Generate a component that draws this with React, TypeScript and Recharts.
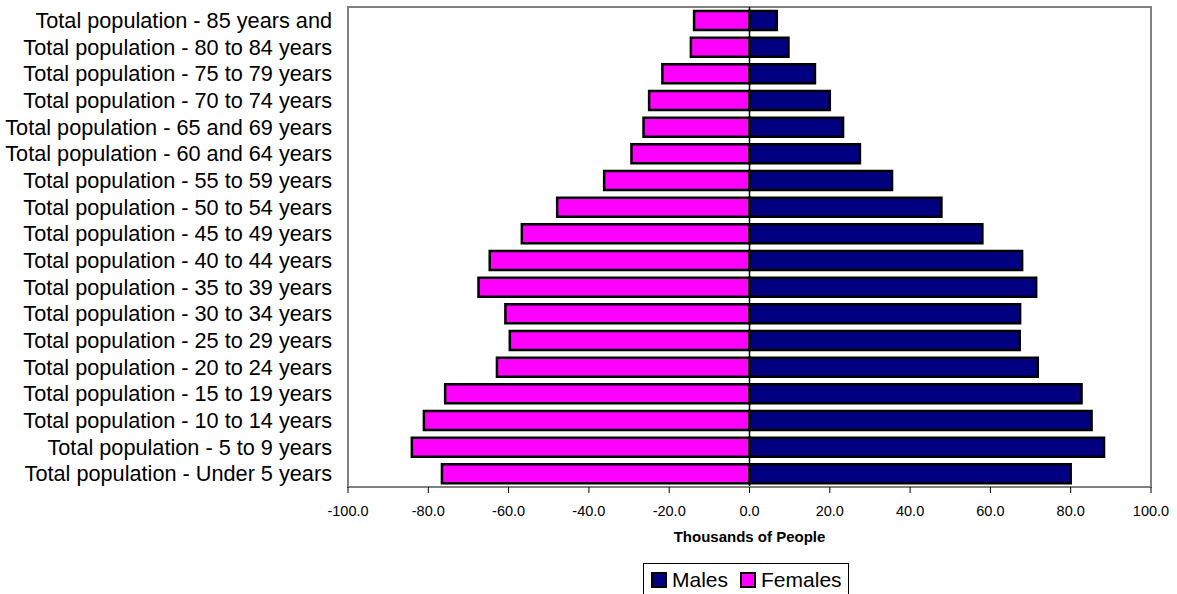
import React from 'react';
import {
  BarChart, Bar, XAxis, YAxis, ReferenceLine, ReferenceArea
} from 'recharts';

const ageGroups = [
  'Total population - 85 years and',
  'Total population - 80 to 84 years',
  'Total population - 75 to 79 years',
  'Total population - 70 to 74 years',
  'Total population - 65 and 69 years',
  'Total population - 60 and 64 years',
  'Total population - 55 to 59 years',
  'Total population - 50 to 54 years',
  'Total population - 45 to 49 years',
  'Total population - 40 to 44 years',
  'Total population - 35 to 39 years',
  'Total population - 30 to 34 years',
  'Total population - 25 to 29 years',
  'Total population - 20 to 24 years',
  'Total population - 15 to 19 years',
  'Total population - 10 to 14 years',
  'Total population - 5 to 9 years',
  'Total population - Under 5 years',
];

const males = [6.8, 9.7, 16.3, 20.0, 23.3, 27.5, 35.5, 47.8, 58.0, 67.9, 71.4, 67.4, 67.3, 71.8, 82.7, 85.2, 88.3, 80.0];
const females = [-13.8, -14.6, -21.7, -25.0, -26.4, -29.4, -36.2, -47.9, -56.7, -64.7, -67.5, -60.8, -59.7, -62.9, -75.8, -81.1, -84.1, -76.6];

const xTicks = [-100, -80, -60, -40, -20, 0, 20, 40, 60, 80, 100];

const series = [
  { key: 'males', name: 'Males', color: '#000080' },
  { key: 'females', name: 'Females', color: '#FF00FF' },
];

const FONT = '"Liberation Sans", Arial, sans-serif';

export default function App() {
  const data = ageGroups.map((group, i) => ({
    group,
    males: males[i],
    females: females[i],
  }));

  return (
    <div style={{ position: 'absolute', left: 0, top: 0, width: 1177, height: 594, background: '#fff', fontFamily: FONT, overflow: 'hidden' }}>
      <BarChart
        width={1177}
        height={594}
        data={data}
        layout="vertical"
        stackOffset="sign"
        barSize={19}
        margin={{ top: 7, right: 26, left: 0, bottom: 47 }}
      >
        <ReferenceArea x1={-100} x2={100} fill="none" stroke="#808080" strokeWidth={2} ifOverflow="visible" />
        <XAxis
          type="number"
          domain={[-100, 100]}
          ticks={xTicks}
          tickFormatter={(v: number) => v.toFixed(1)}
          height={60}
          tickSize={6}
          tickMargin={13}
          axisLine={{ stroke: '#808080', strokeWidth: 2 }}
          tickLine={{ stroke: '#000' }}
          tick={{ fill: '#000', fontSize: 14.5, fontFamily: FONT }}
          label={{ value: 'Thousands of People', position: 'insideBottom', offset: 5, fill: '#000', fontSize: 15, fontWeight: 'bold', fontFamily: FONT }}
        />
        <YAxis
          type="category"
          dataKey="group"
          width={348}
          interval={0}
          tickSize={0}
          tickMargin={16}
          axisLine={false}
          tickLine={false}
          tick={{ fill: '#000', fontSize: 21.7, fontFamily: FONT }}
        />
        {series.map(s => (
          <Bar
            key={s.key}
            dataKey={s.key}
            name={s.name}
            stackId="pop"
            fill={s.color}
            stroke="#000"
            strokeWidth={2.5}
            isAnimationActive={false}
          />
        ))}
        <ReferenceLine x={0} stroke="#000" strokeWidth={1.5} />
      </BarChart>
      <div
        style={{
          position: 'absolute', left: 643, top: 563, width: 206, height: 40,
          border: '1px solid #000', background: '#fff',
          display: 'flex', alignItems: 'flex-start', paddingTop: 4, boxSizing: 'border-box',
          fontSize: 21, color: '#000', lineHeight: '24px'
        }}
      >
        {series.map((s, i) => (
          <div key={s.key} style={{ display: 'flex', alignItems: 'center', marginLeft: i === 0 ? 7 : 12 }}>
            <span style={{ display: 'inline-block', width: 12, height: 12, background: s.color, border: '2px solid #000', marginRight: 5 }} />
            <span>{s.name}</span>
          </div>
        ))}
      </div>
    </div>
  );
}
